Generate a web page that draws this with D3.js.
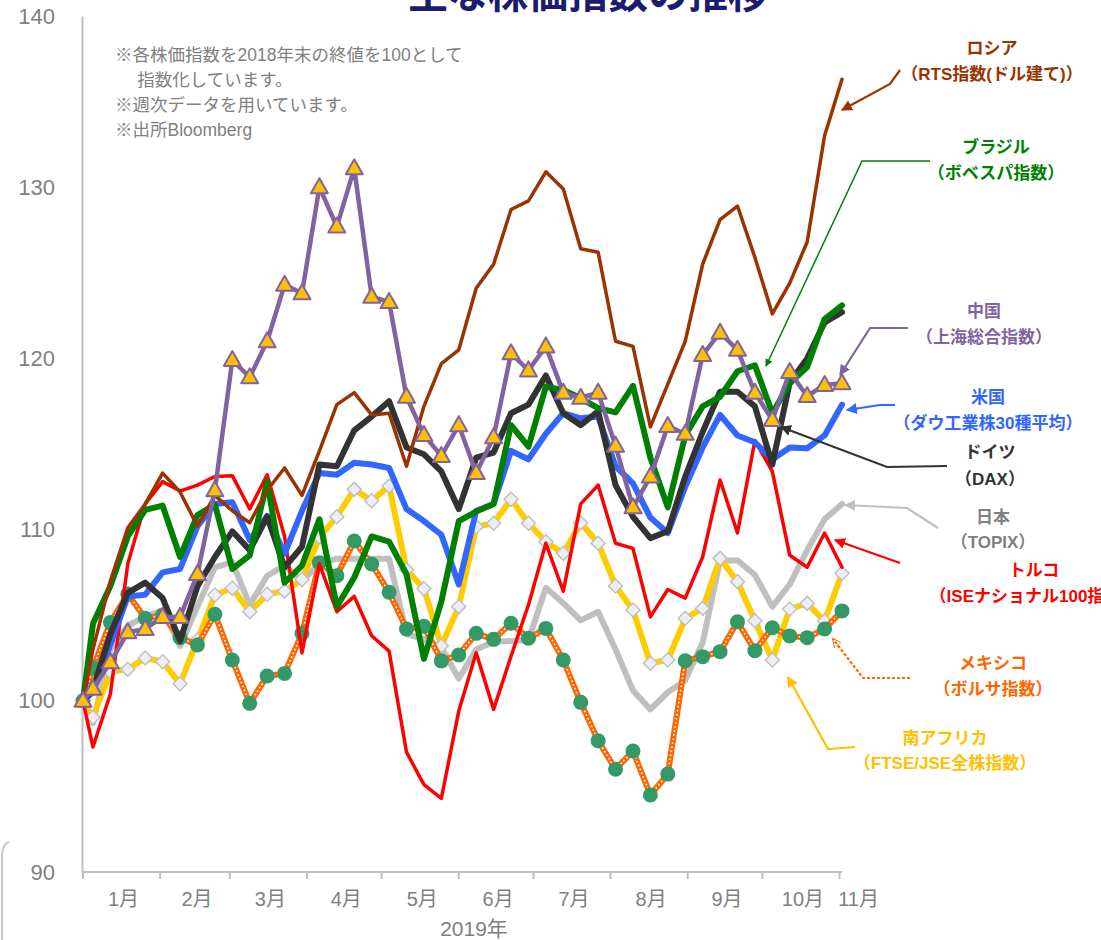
<!DOCTYPE html>
<html><head><meta charset="utf-8">
<script src="https://cdn.jsdelivr.net/npm/d3@7"></script>
<style>
html,body{margin:0;padding:0;background:#fff;}
svg{display:block;}
text{font-family:"Liberation Sans","Noto Sans CJK JP",sans-serif;}
</style></head>
<body><svg id="chart" width="1101" height="940"></svg>
<script>
const dates = ["2018-12-31","2019-01-04","2019-01-11","2019-01-18","2019-01-25","2019-02-01","2019-02-08","2019-02-15","2019-02-22","2019-03-01","2019-03-08","2019-03-15","2019-03-22","2019-03-29","2019-04-05","2019-04-12","2019-04-19","2019-04-26","2019-05-03","2019-05-10","2019-05-17","2019-05-24","2019-05-31","2019-06-07","2019-06-14","2019-06-21","2019-06-28","2019-07-05","2019-07-12","2019-07-19","2019-07-26","2019-08-02","2019-08-09","2019-08-16","2019-08-23","2019-08-30","2019-09-06","2019-09-13","2019-09-20","2019-09-27","2019-10-04","2019-10-11","2019-10-18","2019-10-25","2019-11-01"];
const russia = [100,103.0,107.0,110.1,111.5,113.3,112.2,110.2,112.0,111.1,110.4,112.3,113.6,112.0,114.6,117.3,118.0,116.7,116.8,113.7,117.2,119.7,120.5,124.1,125.5,128.7,129.2,130.9,129.9,126.4,126.2,121.0,120.7,116.0,118.5,121.0,125.5,128.1,128.9,125.9,122.6,124.4,126.8,133.0,136.3];
const brazil = [100,104.5,106.7,109.6,111.15,111.4,108.4,110.85,111.45,107.7,108.5,112.8,106.9,107.9,110.6,105.5,107.2,109.6,109.3,107.4,102.45,105.8,110.5,111.05,111.5,116.1,114.84,118.35,118.15,117.67,117.1,116.85,118.4,114.2,111.3,115.5,117.2,117.76,119.25,119.6,116.8,118.55,119.5,122.3,123.1];
const china = [100,100.7,102.25,104.0,104.2,104.9,104.9,107.4,112.3,119.9,118.9,121.0,124.3,123.8,130.0,127.7,131.1,123.6,123.3,117.76,115.53,114.3,116.1,113.3,115.4,120.3,119.3,120.7,118.0,117.7,118.0,114.9,111.3,113.1,116.05,115.6,120.2,121.5,120.5,118.0,116.4,119.2,117.8,118.45,118.55];
const usa = [100,100.5,103.3,106.1,106.2,107.5,107.7,110.2,111.5,111.6,109.4,110.8,108.6,111.1,113.3,113.2,113.9,113.8,113.6,111.2,110.5,109.7,106.8,111.1,111.5,114.6,114.1,115.6,116.8,116.5,116.6,113.7,112.7,110.7,109.8,112.5,114.8,116.7,115.5,115.1,114.1,114.8,114.75,115.5,117.3];
const germany = [100,100.7,103.9,106.3,106.9,106.0,103.5,106.7,108.4,109.9,108.8,110.75,107.8,109.0,113.8,113.7,115.8,116.6,117.5,114.8,114.4,113.4,111.2,114.2,114.5,116.8,117.3,119.0,116.8,116.1,116.9,112.6,110.75,109.5,109.9,113.1,115.7,118.05,118.05,117.2,113.8,118.6,120.0,122.1,122.7];
const japan = [100,98.7,103.0,104.4,104.9,105.3,103.2,105.5,107.8,108.1,105.6,107.3,107.9,107.0,108.0,108.3,108.3,108.3,108.3,103.9,103.6,103.1,101.3,103.0,103.45,103.5,103.55,106.6,105.7,104.7,105.2,103.0,100.6,99.5,100.5,101.2,103.4,108.2,108.2,107.35,105.5,106.8,108.8,110.6,111.5];
const turkey = [100,97.3,100.4,108.0,111.5,112.8,112.25,112.6,113.1,113.15,111.2,113.2,109.6,102.8,108.0,105.2,106.1,103.8,102.9,97.0,95.1,94.3,99.4,102.8,99.5,102.6,105.6,109.2,106.4,111.5,112.6,109.2,108.9,104.9,106.5,106.0,108.4,112.9,109.8,115.2,113.4,108.5,107.8,109.8,107.8];
const mexico = [100,101.93,104.58,106.24,104.82,105.0,103.69,103.26,105.05,102.38,99.85,101.45,101.6,103.94,108.07,107.31,109.33,107.99,106.34,104.2,104.35,102.33,102.68,103.94,103.59,104.53,103.65,104.23,102.38,99.91,97.67,96.0,97.07,94.5,95.72,102.34,102.58,102.87,104.62,102.93,104.27,103.79,103.69,104.19,105.25];
const southAfrica = [100,99.04,101.7,101.84,102.5,102.28,101.0,103.55,106.18,106.57,105.2,106.22,106.41,107.08,109.56,110.75,112.35,111.69,112.55,107.66,106.55,103.22,105.5,110.17,110.37,111.77,110.37,109.29,108.61,110.4,109.2,106.71,105.3,102.19,102.38,104.82,105.4,108.32,106.96,104.68,102.38,105.36,105.69,104.66,107.45];
const monthLabels = ["1月","2月","3月","4月","5月","6月","7月","8月","9月","10月","11月"];
const monthTicks = ["2018-12-31","2019-01-31","2019-02-28","2019-03-31","2019-04-30","2019-05-31","2019-06-30","2019-07-31","2019-08-31","2019-09-30","2019-10-31"];
const yTicks = [90,100,110,120,130,140];
const notes = ["※各株価指数を2018年末の終値を100として","　 指数化しています。","※週次データを用いています。","※出所Bloomberg"];

const svg = d3.select("#chart");
svg.append("rect").attr("width",1101).attr("height",940).attr("fill","#fff");
const parse = d3.utcParse("%Y-%m-%d");
const D = dates.map(parse);
const x = d3.scaleUtc().domain([parse("2018-12-31"), parse("2019-11-01")]).range([83, 842]);
const y = d3.scaleLinear().domain([90,140]).range([872, 16]);

// title (cut off at top, as in the source)
svg.append("text").attr("x",588).attr("y",8).attr("text-anchor","middle")
  .attr("font-size",40).attr("font-weight","bold").attr("fill","#1c1c6e")
  .style("font-family","'Noto Sans CJK JP',sans-serif").text("主な株価指数の推移");

// left edge frame remnant
svg.append("path").attr("d","M9,842 Q2,844 2,856 L2,940").attr("fill","none").attr("stroke","#c8c8c8").attr("stroke-width",2);

// axes
const gY = svg.append("g").attr("transform","translate(82,0)");
gY.call(d3.axisLeft(y).tickValues(yTicks).tickSize(0).tickPadding(27).tickFormat(d3.format("d")));
gY.select(".domain").attr("stroke","#bfbfbf").attr("stroke-width",2);
gY.selectAll("text").attr("font-size",22).attr("fill","#7f7f7f").style("font-family","'Liberation Sans',sans-serif");

const gX = svg.append("g").attr("transform","translate(0,872)");
gX.append("line").attr("x1",82).attr("x2",842).attr("stroke","#bfbfbf").attr("stroke-width",2);
const tk = monthTicks.map(parse);
gX.selectAll("line.t").data(tk).join("line").attr("class","t")
  .attr("x1",d=>x(d)).attr("x2",d=>x(d)).attr("y1",0).attr("y2",7).attr("stroke","#bfbfbf").attr("stroke-width",2);
gX.selectAll("text.m").data(monthLabels).join("text").attr("class","m")
  .attr("x",(d,i)=> i < tk.length-1 ? (x(tk[i])+x(tk[i+1]))/2 + 2 : x(tk[i]) + 19)
  .attr("y",34).attr("text-anchor","middle").attr("font-size",20).attr("fill","#7f7f7f").text(d=>d);
svg.append("text").attr("x",474).attr("y",936).attr("text-anchor","middle").attr("font-size",21).attr("fill","#7f7f7f").text("2019年");

// notes
svg.selectAll("text.note").data(notes).join("text").attr("class","note")
  .attr("x",115).attr("y",(d,i)=>61+i*25).attr("font-size",17.5).attr("fill","#808080").text(d=>d);

// series
const line = d3.line().x((d,i)=>x(D[i])).y(d=>y(d));
function drawLine(data,color,w){
  svg.append("path").datum(data).attr("d",line).attr("fill","none").attr("stroke",color)
    .attr("stroke-width",w).attr("stroke-linejoin","round").attr("stroke-linecap","round");
}
drawLine(japan,"#bfbfbf",6);
drawLine(southAfrica,"#ffcc00",6);
svg.append("g").selectAll("path").data(southAfrica).join("path")
  .attr("transform",(d,i)=>`translate(${x(D[i])},${y(d)})`)
  .attr("d","M0,-7L7,0L0,7L-7,0Z").attr("fill","#eeeef8").attr("stroke","#c0c0c0").attr("stroke-width",1.5);
drawLine(mexico,"#ff6600",6);
svg.append("path").datum(mexico).attr("d",line).attr("fill","none").attr("stroke","#fff")
  .attr("stroke-width",1.8).attr("stroke-dasharray","0.1 4").attr("stroke-linecap","round");
svg.append("g").selectAll("circle").data(mexico).join("circle")
  .attr("cx",(d,i)=>x(D[i])).attr("cy",d=>y(d)).attr("r",7.5).attr("fill","#339966");
drawLine(turkey,"#ff0000",3.5);
drawLine(usa,"#3366ff",6);
drawLine(germany,"#333333",6);
drawLine(brazil,"#008000",6);
drawLine(russia,"#993300",3.5);
drawLine(china,"#8064a2",4.5);
svg.append("g").selectAll("path").data(china).join("path")
  .attr("transform",(d,i)=>`translate(${x(D[i])},${y(d)})`)
  .attr("d","M0,-9L8.5,6L-8.5,6Z").attr("fill","#ffc000").attr("stroke","#8064a2").attr("stroke-width",2).attr("stroke-linejoin","round");

// labels + arrows
const labels = [
  {t:["ロシア","（RTS指数(ドル建て)）"],x:992,y:[54,80],c:"#993300",p:[[900,70],[890,84],[842,110]]},
  {t:["ブラジル","（ボベスパ指数）"],x:996,y:[153,179],c:"#008000",p:[[930,161],[862,161],[766,366]],w:1.5},
  {t:["中国","（上海総合指数）"],x:984,y:[317,343],c:"#8064a2",p:[[908,328],[870,328],[840,375]]},
  {t:["米国","（ダウ工業株30種平均）"],x:988,y:[403,429],c:"#3366ff",p:[[895,405],[880,405],[847,410]]},
  {t:["ドイツ","（DAX）"],x:990,y:[458,485],c:"#333333",p:[[947,466],[887,467],[781,427]]},
  {t:["日本","（TOPIX）"],x:993,y:[523,548],c:"#808080",lc:"#bfbfbf",p:[[938,528],[907,508],[845,505]]},
  {t:["トルコ","（ISEナショナル100指数）"],x:1034,y:[576,602],c:"#ff0000",p:[[900,563],[835,540]]},
  {t:["メキシコ","（ボルサ指数）"],x:993,y:[669,695],c:"#ff6600",p:[[910,678],[863,678],[833,639]],dash:true},
  {t:["南アフリカ","（FTSE/JSE全株指数）"],x:945,y:[744,769],c:"#ffc000",p:[[855,747],[828,749],[788,677]]}
];
const defs = svg.append("defs");
labels.forEach((L,k)=>{
  const lc = L.lc || L.c;
  defs.append("marker").attr("id","ar"+k).attr("viewBox","0 0 10 10").attr("refX",9).attr("refY",5)
    .attr("markerWidth",L.dash?4:5).attr("markerHeight",L.dash?4:5).attr("orient","auto").attr("markerUnits","strokeWidth")
    .append("path").attr("d","M0,0L10,5L0,10Z").attr("fill",L.dash?"none":lc).attr("stroke",L.dash?lc:"none");
  svg.append("path").attr("d",d3.line()(L.p)).attr("fill","none").attr("stroke",lc)
    .attr("stroke-width",L.w||2.2).attr("stroke-dasharray",L.dash?"3 2":null).attr("marker-end",`url(#ar${k})`);
  L.t.forEach((s,j)=>svg.append("text").attr("x",L.x).attr("y",L.y[j]).attr("text-anchor","middle")
    .attr("font-size",17).attr("font-weight","bold").attr("fill",L.c).text(s));
});
</script></body></html>
